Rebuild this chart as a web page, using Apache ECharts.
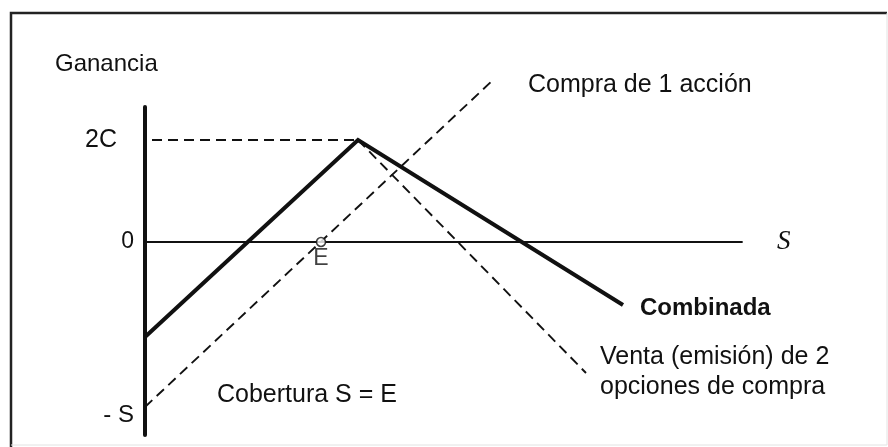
<!DOCTYPE html>
<html><head><meta charset="utf-8">
<script src="https://cdn.jsdelivr.net/npm/echarts@6/dist/echarts.min.js"></script>
<style>html,body{margin:0;padding:0;background:#fff}#c{width:888px;height:447px}</style>
</head><body><div id="c"></div>
<script>
// Data (arbitrary units: x = precio S, y = ganancia)
const combinada = [[0, -9.5], [21.3, 10.2], [47.8, -6.3]];
const compraAccion = [[0, -16.5], [34.8, 16.2]];
const ventaOpciones = [[21.3, 10.2], [44.1, -13.1]];
const nivel2C = [[0.7, 10.2], [21.3, 10.2]];
const puntoE = [[17.6, 0]];
const yTickValues = [-16.5, 0, 10.2];
const yTickLabels = ['- S', '0', '2C'];
const yTickStyles = ['s', 'z', 'c'];

const FONT = "'Liberation Sans', Arial, Helvetica, sans-serif";
const INK = '#111';
const chart = echarts.init(document.getElementById('c'));
const dashed = { type: [10, 6], width: 1.9, color: INK };

chart.setOption({
  animation: false,
  backgroundColor: '#fff',
  grid: { left: 145, right: 146, top: 107, bottom: 12, containLabel: false },
  xAxis: {
    type: 'value', min: 0, max: 59.7,
    axisLine: { show: true, onZero: true, lineStyle: { color: INK, width: 1.8 } },
    axisTick: { show: false }, axisLabel: { show: false }, splitLine: { show: false },
    name: 'S', nameLocation: 'end', nameGap: 35,
    nameTextStyle: { fontFamily: "'Liberation Serif', 'DejaVu Serif', serif", fontStyle: 'italic', fontSize: 27, color: INK, verticalAlign: 'middle' }
  },
  yAxis: {
    type: 'value', min: -19.3, max: 13.5,
    axisLine: { show: true, onZero: true, lineStyle: { color: INK, width: 4 } },
    axisTick: { show: false }, splitLine: { show: false },
    axisLabel: {
      customValues: yTickValues,
      formatter: v => { const i = yTickValues.indexOf(v); return i >= 0 ? `{${yTickStyles[i]}|${yTickLabels[i]}}` : ''; },
      margin: 11, fontFamily: FONT, fontSize: 24, color: INK,
      rich: {
        c: { fontFamily: FONT, fontSize: 25, color: INK, padding: [0, 17, 0, 0] },
        z: { fontFamily: FONT, fontSize: 23, color: INK },
        s: { fontFamily: FONT, fontSize: 24, color: INK, padding: [16, 0, 0, 0] }
      }
    }
  },
  series: [
    { name: 'Compra de 1 acción', type: 'line', data: compraAccion, showSymbol: false, clip: false, silent: true, lineStyle: dashed, z: 2 },
    { name: 'Venta (emisión) de 2 opciones de compra', type: 'line', data: ventaOpciones, showSymbol: false, silent: true, lineStyle: dashed, z: 2 },
    { name: '2C', type: 'line', data: nivel2C, showSymbol: false, silent: true, lineStyle: dashed, z: 2 },
    { name: 'Combinada', type: 'line', data: combinada, showSymbol: false, silent: true, lineStyle: { width: 4, color: INK, join: 'miter' }, z: 3 },
    { name: 'E', type: 'scatter', data: puntoE, symbol: 'circle', symbolSize: 9, silent: true, z: 5,
      itemStyle: { color: '#fff', borderColor: INK, borderWidth: 1.6 },
      label: { show: true, formatter: 'E', position: 'bottom', distance: 0, fontFamily: FONT, fontSize: 23, color: INK, textBorderWidth: 0 } }
  ],
  graphic: [
    { type: 'polyline', silent: true, shape: { points: [[11, 447], [11, 13], [887, 13]] }, style: { stroke: '#222', lineWidth: 2.5, fill: null } },
    { type: 'polyline', silent: true, shape: { points: [[887, 13], [887, 445], [11, 445]] }, style: { stroke: '#e2e2e2', lineWidth: 1, fill: null } },
    { type: 'text', silent: true, style: { text: 'Ganancia', x: 55, y: 64, font: `24px ${FONT}`, fill: INK, verticalAlign: 'middle' } },
    { type: 'text', silent: true, style: { text: 'Compra de 1 acción', x: 528, y: 85, font: `25px ${FONT}`, fill: INK, verticalAlign: 'middle' } },
    { type: 'text', silent: true, style: { text: 'Combinada', x: 640, y: 308, font: `bold 24px ${FONT}`, fill: INK, verticalAlign: 'middle' } },
    { type: 'text', silent: true, style: { text: 'Venta (emisión) de 2', x: 600, y: 357, font: `25px ${FONT}`, fill: INK, verticalAlign: 'middle' } },
    { type: 'text', silent: true, style: { text: 'opciones de compra', x: 600, y: 387, font: `25px ${FONT}`, fill: INK, verticalAlign: 'middle' } },
    { type: 'text', silent: true, style: { text: 'Cobertura S = E', x: 217, y: 395, font: `25px ${FONT}`, fill: INK, verticalAlign: 'middle' } }
  ]
});
</script></body></html>
